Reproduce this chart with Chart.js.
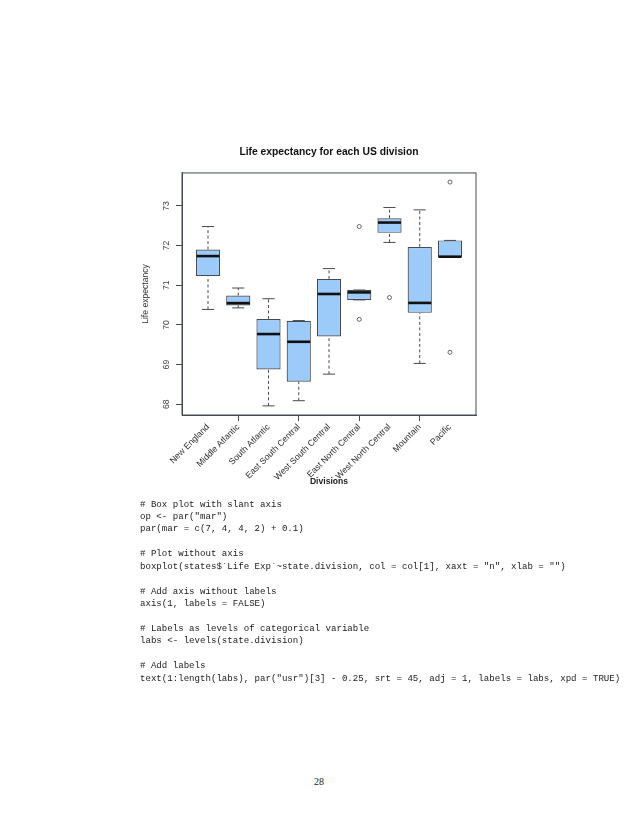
<!DOCTYPE html>
<html>
<head>
<meta charset="utf-8">
<script src="https://cdn.jsdelivr.net/npm/chart.js@4/dist/chart.umd.min.js"></script>
<style>
  html, body { margin: 0; padding: 0; background: #fff; }
  body { width: 638px; height: 826px; position: relative; overflow: hidden; }
  #wrap { position: absolute; left: 120px; top: 135px; width: 418px; height: 365px; }
  pre { position: absolute; left: 140px; top: 498.5px; margin: 0; font-family: "Liberation Mono", monospace; font-size: 9.1px; line-height: 12.45px; color: #222; }
  #page { position: absolute; left: 0; width: 638px; top: 776px; text-align: center; font-family: "Liberation Serif", serif; font-size: 10px; color: #222; }
</style>
</head>
<body>
<div id="wrap"><canvas id="boxChart"></canvas></div>
<pre># Box plot with slant axis
op &lt;- par("mar")
par(mar = c(7, 4, 4, 2) + 0.1)

# Plot without axis
boxplot(states$`Life Exp`~state.division, col = col[1], xaxt = "n", xlab = "")

# Add axis without labels
axis(1, labels = FALSE)

# Labels as levels of categorical variable
labs &lt;- levels(state.division)

# Add labels
text(1:length(labs), par("usr")[3] - 0.25, srt = 45, adj = 1, labels = labs, xpd = TRUE)</pre>
<div id="page">28</div>
<script>
const divisions = ['New England', 'Middle Atlantic', 'South Atlantic', 'East South Central',
  'West South Central', 'East North Central', 'West North Central', 'Mountain', 'Pacific'];
const whiskerLow  = [70.39, 70.43, 67.96, 68.09, 68.76, 70.63, 72.08, 69.03, 71.71];
const boxLow      = [71.23, 70.49, 68.875, 68.57, 69.71, 70.63, 72.32, 70.305, 71.71];
const medians     = [71.735, 70.55, 69.77, 69.575, 70.78, 70.82, 72.58, 70.555, 71.72];
const boxHigh     = [71.90, 70.74, 70.15, 70.105, 71.16, 70.88, 72.69, 71.965, 72.13];
const whiskerHigh = [72.48, 70.93, 70.66, 70.11, 71.42, 70.88, 72.96, 72.90, 72.13];
// outliers: division number (1-based) and value
const outlierDivision = [6, 6, 7, 9, 9];
const outlierValue    = [72.48, 70.14, 70.69, 69.31, 73.60];
const yTicks = [68, 69, 70, 71, 72, 73];
const xTickMarks = [2, 4, 6, 8];

Chart.defaults.font.family = '"Liberation Sans", Arial, sans-serif';
const lineCol = '#454b52';

// whiskers, staples, medians and the frame, placed through the scales
const boxParts = {
  id: 'boxParts',
  beforeDatasetsDraw(chart) {
    const { ctx, scales: { x, y } } = chart;
    const cap = x.getPixelForValue(1.2) - x.getPixelForValue(1);
    ctx.save();
    ctx.strokeStyle = lineCol;
    ctx.lineWidth = 1;
    divisions.forEach((d, i) => {
      const px = x.getPixelForValue(i + 1);
      ctx.setLineDash([3, 2.5]);
      ctx.beginPath();
      ctx.moveTo(px, y.getPixelForValue(whiskerLow[i]));
      ctx.lineTo(px, y.getPixelForValue(boxLow[i]));
      ctx.moveTo(px, y.getPixelForValue(boxHigh[i]));
      ctx.lineTo(px, y.getPixelForValue(whiskerHigh[i]));
      ctx.stroke();
      ctx.setLineDash([]);
      ctx.beginPath();
      [whiskerLow[i], whiskerHigh[i]].forEach(v => {
        const py = y.getPixelForValue(v);
        ctx.moveTo(px - cap, py);
        ctx.lineTo(px + cap, py);
      });
      ctx.stroke();
    });
    ctx.restore();
  },
  afterDatasetsDraw(chart) {
    const { ctx, chartArea: a, scales: { x, y } } = chart;
    const half = x.getPixelForValue(1.4) - x.getPixelForValue(1);
    ctx.save();
    ctx.strokeStyle = '#111';
    ctx.lineWidth = 2.6;
    medians.forEach((m, i) => {
      const px = x.getPixelForValue(i + 1);
      const py = y.getPixelForValue(m);
      ctx.beginPath();
      ctx.moveTo(px - half + 0.6, py);
      ctx.lineTo(px + half - 0.6, py);
      ctx.stroke();
    });
    ctx.strokeStyle = lineCol;
    ctx.lineWidth = 1;
    ctx.strokeRect(a.left, a.top, a.right - a.left, a.bottom - a.top);
    ctx.restore();
  }
};

new Chart(document.getElementById('boxChart'), {
  type: 'bar',
  data: {
    datasets: [{
      label: 'Life expectancy',
      data: divisions.map((d, i) => ({ x: i + 1, y: [boxLow[i], boxHigh[i]] })),
      backgroundColor: '#9ccbfa',
      borderColor: lineCol,
      borderWidth: 1.2,
      borderSkipped: false,
      barPercentage: 1,
      categoryPercentage: 0.8
    }, {
      type: 'scatter',
      label: 'Outliers',
      data: outlierDivision.map((d, i) => ({ x: d, y: outlierValue[i] })),
      pointStyle: 'circle',
      pointRadius: 2,
      borderColor: '#555',
      borderWidth: 0.9,
      backgroundColor: 'rgba(0,0,0,0)'
    }]
  },
  options: {
    responsive: true,
    maintainAspectRatio: false,
    animation: false,
    layout: { padding: { left: 0, right: 62, top: 0, bottom: 0 } },
    plugins: {
      legend: { display: false },
      tooltip: { enabled: false },
      title: {
        display: true,
        fullSize: false,
        text: 'Life expectancy for each US division',
        color: '#111',
        font: { size: 10.3, weight: 'bold' },
        padding: { top: 11.3, bottom: 14.3 }
      }
    },
    scales: {
      x: {
        type: 'linear',
        offset: false,
        min: 0.14,
        max: 9.86,
        afterBuildTicks: s => { s.ticks = divisions.map((d, i) => ({ value: i + 1 })); },
        afterFit: s => { s.height = 85; },
        grid: {
          drawOnChartArea: false,
          offset: false,
          tickLength: 6,
          tickColor: c => (c.tick && xTickMarks.includes(c.tick.value)) ? lineCol : 'rgba(0,0,0,0)'
        },
        border: { display: true, color: lineCol },
        ticks: {
          autoSkip: false,
          minRotation: 45,
          maxRotation: 45,
          padding: 1,
          color: '#2a2a2a',
          font: { size: 8.7 },
          callback: v => divisions[v - 1]
        },
        title: {
          display: true,
          text: 'Divisions',
          color: '#222',
          font: { size: 8.6, weight: 'bold' },
          padding: { top: 0, bottom: 12.8 }
        }
      },
      y: {
        min: 67.73,
        max: 73.83,
        afterBuildTicks: s => { s.ticks = yTicks.map(v => ({ value: v })); },
        afterFit: s => { s.width = 62; },
        grid: { drawOnChartArea: false, tickLength: 6, color: lineCol },
        border: { display: true, color: lineCol },
        ticks: {
          minRotation: 90,
          maxRotation: 90,
          crossAlign: 'center',
          padding: 4.5,
          color: '#444',
          font: { size: 8.6 }
        },
        title: {
          display: true,
          text: 'Life expectancy',
          color: '#333',
          font: { size: 8.6 },
          padding: { top: 20.8, bottom: 0 }
        }
      }
    }
  },
  plugins: [boxParts]
});
</script>
</body>
</html>
